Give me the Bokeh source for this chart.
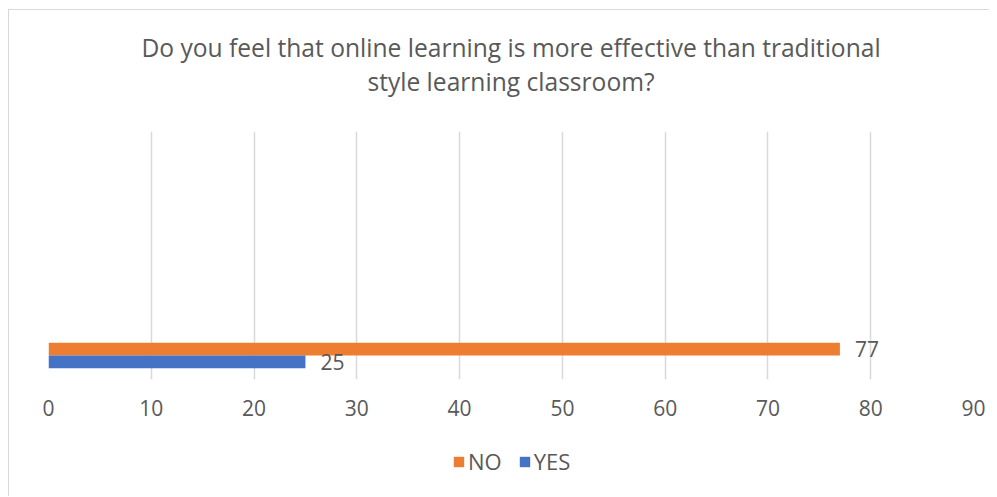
from bokeh.plotting import figure
from bokeh.models import Range1d, ColumnDataSource, Legend, LegendItem, FixedTicker, LabelSet, Label
from bokeh.layouts import column
from bokeh.embed import file_html
from bokeh.resources import INLINE
from bokeh.core.properties import value

title_lines = ["Do you feel that online learning is more effective than traditional",
               "style learning classroom?"]
series = ["NO", "YES"]
values = [77, 25]
colors = ["#ED7D31", "#4472C4"]
ticks = [0, 10, 20, 30, 40, 50, 60, 70, 80, 90]

FONT = "Open Sans"
TXT = "#595959"
W = 980
X_MAX = 90

# ---- title strip ----
HT = 121
tf = figure(width=W, height=HT, output_backend="svg", toolbar_location=None, title=None,
            x_range=Range1d(0, X_MAX), y_range=Range1d(0, HT),
            min_border=0, outline_line_color=None)
tf.axis.visible = False
tf.grid.visible = False
for txt, yb in zip(title_lines, [HT - 37, HT - 71]):
    tf.add_layout(Label(x=X_MAX / 2, y=yb, text=txt, text_align="center",
                        text_baseline="alphabetic", text_font=FONT,
                        text_font_size="24.6px", text_color=TXT))

# ---- main chart ----
bar_h = 0.264
offsets = [bar_h / 2, -bar_h / 2]

p = figure(width=W, height=298, output_backend="svg", toolbar_location=None, title=None,
           x_range=Range1d(0, X_MAX), y_range=Range1d(-0.5, 4.66),
           min_border_left=39, min_border_right=W - 964, min_border_top=0, min_border_bottom=50)
p.outline_line_color = None
p.yaxis.visible = False
p.ygrid.visible = False
p.xgrid.grid_line_color = "#d9d9d9"
p.xgrid.grid_line_width = 1.5
p.xaxis.ticker = FixedTicker(ticks=ticks)
p.xaxis.axis_line_color = None
p.xaxis.major_tick_line_color = None
p.xaxis.minor_tick_line_color = None
p.xaxis.major_label_text_font = FONT
p.xaxis.major_label_text_font_size = "21px"
p.xaxis.major_label_text_color = TXT
p.xaxis.major_label_standoff = 14

for v, c, off in zip(values, colors, offsets):
    src = ColumnDataSource(dict(y=[off], right=[v], lab=[str(v)]))
    p.hbar(y="y", left=0, right="right", height=bar_h, source=src,
           fill_color=c, line_color=None)
    p.add_layout(LabelSet(x="right", y="y", text="lab", source=src, x_offset=15,
                          text_baseline="middle", text_font=value(FONT),
                          text_font_size="21px", text_color=TXT))

# ---- legend strip ----
HL = 67
lf = figure(width=W, height=HL, output_backend="svg", toolbar_location=None, title=None,
            x_range=Range1d(0, 1), y_range=Range1d(0, 1),
            min_border=0, outline_line_color=None)
lf.axis.visible = False
lf.grid.visible = False
items = []
for s, v, c in zip(series, values, colors):
    r = lf.hbar(y=[0.5], left=[0], right=[v], height=0.5, fill_color=c, line_color=None,
                visible=False)
    items.append(LegendItem(label=s, renderers=[r]))
legend = Legend(items=items, orientation="horizontal", location=(404, 20),
                glyph_width=13, glyph_height=13, label_text_font=FONT,
                label_text_font_size="22px", label_text_color=TXT,
                border_line_color=None, background_fill_alpha=0,
                inactive_fill_alpha=0,
                spacing=16, label_standoff=3, padding=0, margin=0)
lf.add_layout(legend, "center")

layout = column(tf, p, lf, spacing=0)
layout.styles = {"margin-left": "8px", "margin-top": "9px",
                 "border-left": "1px solid #d9d9d9", "border-top": "1px solid #d9d9d9"}

open("out.html", "w").write(file_html(layout, INLINE))
